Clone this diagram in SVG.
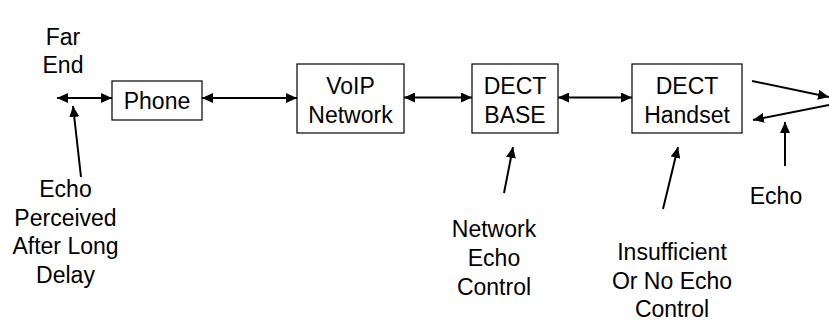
<svg xmlns="http://www.w3.org/2000/svg" width="829" height="320" viewBox="0 0 829 320">
  <style>
    .box { fill: #ffffff; stroke: #000000; stroke-width: 1.2; }
    .lbl { font-family: "Liberation Sans", Arial, sans-serif; font-size: 23px; fill: #000000; text-anchor: middle; }
    .ln { stroke: #000000; stroke-width: 2; fill: none; }
    .both { marker-start: url(#ahs); marker-end: url(#ahe); }
    .one { marker-end: url(#ahe); }
  </style>
  <defs>
    <marker id="ahe" markerUnits="userSpaceOnUse" markerWidth="12" markerHeight="10" refX="11" refY="5" orient="auto">
      <path d="M0,0 L11,5 L0,10 Z" fill="#000000"/>
    </marker>
    <marker id="ahs" markerUnits="userSpaceOnUse" markerWidth="12" markerHeight="10" refX="1" refY="5" orient="auto">
      <path d="M12,0 L1,5 L12,10 Z" fill="#000000"/>
    </marker>
  </defs>

  <rect width="829" height="320" fill="#ffffff"/>

  <!-- connectors -->
  <g id="connectors">
    <line class="ln both" x1="57" y1="98" x2="112" y2="98"/>
    <line class="ln both" x1="202" y1="98" x2="297" y2="98"/>
    <line class="ln both" x1="404" y1="97.5" x2="472" y2="97.5"/>
    <line class="ln both" x1="558" y1="97.5" x2="632" y2="97.5"/>
    <line class="ln one" x1="752" y1="81" x2="829" y2="97"/>
    <line class="ln one" x1="829" y1="105" x2="753" y2="120"/>
    <line class="ln one" x1="785" y1="166" x2="785" y2="122"/>
    <line class="ln one" x1="81" y1="177" x2="73" y2="106"/>
    <line class="ln one" x1="504" y1="193" x2="513" y2="147"/>
    <line class="ln one" x1="663" y1="209" x2="678" y2="147"/>
  </g>

  <!-- free labels -->
  <g id="far-end">
    <text class="lbl" x="63" y="45">Far</text>
    <text class="lbl" x="63" y="73">End</text>
  </g>

  <g id="phone">
    <rect class="box" x="112" y="81" width="90" height="39"/>
    <text class="lbl" x="157" y="109">Phone</text>
  </g>

  <g id="voip-network">
    <rect class="box" x="297" y="64" width="107" height="69"/>
    <text class="lbl" x="350.5" y="94">VoIP</text>
    <text class="lbl" x="350.5" y="122.5">Network</text>
  </g>

  <g id="dect-base">
    <rect class="box" x="472" y="64" width="86" height="69"/>
    <text class="lbl" x="515" y="94">DECT</text>
    <text class="lbl" x="515" y="122.5">BASE</text>
  </g>

  <g id="dect-handset">
    <rect class="box" x="632" y="64" width="110" height="69"/>
    <text class="lbl" x="687" y="94">DECT</text>
    <text class="lbl" x="687" y="122.5">Handset</text>
  </g>

  <g id="echo-perceived">
    <text class="lbl" x="65.5" y="197">Echo</text>
    <text class="lbl" x="65.5" y="226">Perceived</text>
    <text class="lbl" x="65.5" y="254">After Long</text>
    <text class="lbl" x="65.5" y="283">Delay</text>
  </g>

  <g id="network-echo-control">
    <text class="lbl" x="494" y="237">Network</text>
    <text class="lbl" x="494" y="266">Echo</text>
    <text class="lbl" x="494" y="295">Control</text>
  </g>

  <g id="insufficient-echo-control">
    <text class="lbl" x="672" y="260">Insufficient</text>
    <text class="lbl" x="672" y="289">Or No Echo</text>
    <text class="lbl" x="672" y="316.5">Control</text>
  </g>

  <g id="echo">
    <text class="lbl" x="776" y="204">Echo</text>
  </g>
</svg>
